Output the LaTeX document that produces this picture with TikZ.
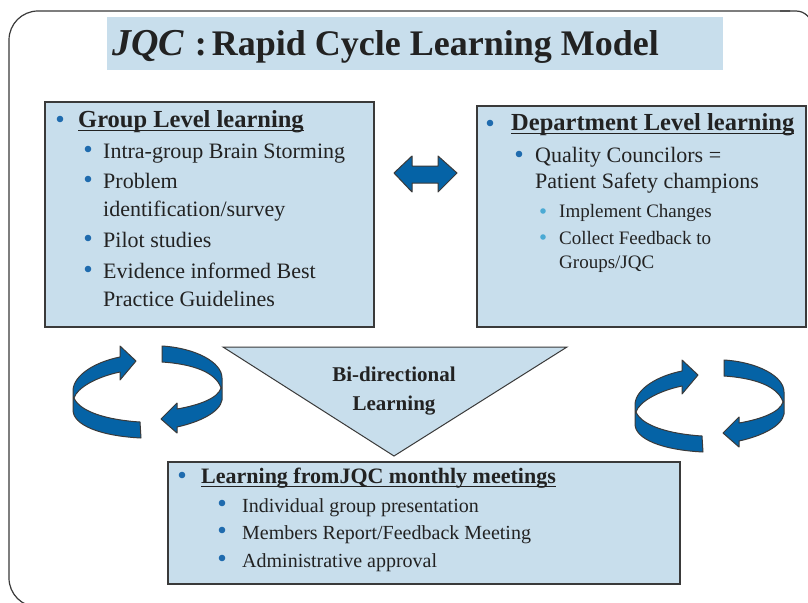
\documentclass[tikz,border=0pt]{standalone}
\usepackage{fontspec}
\setmainfont{Liberation Serif}
\usetikzlibrary{arrows}

\definecolor{boxblue}{HTML}{C8DEEC}
\definecolor{arrblue}{HTML}{0563A6}
\definecolor{dotblue}{HTML}{1F6BAE}
\definecolor{litblue}{HTML}{4BAAD4}
\definecolor{inkgray}{HTML}{222222}
\definecolor{edgegray}{HTML}{3A3A3A}

\begin{document}
\begin{tikzpicture}[x=1pt,y=-1pt,
    panel/.style={draw=edgegray, line width=1.3pt, fill=boxblue},
    ribbon/.style={draw=edgegray, line width=1pt, fill=arrblue, line join=round},
    head/.style={anchor=base west, inner sep=0pt, text=inkgray,
      font=\fontsize{24.5}{28}\selectfont\bfseries},
    item/.style={anchor=base west, inner sep=0pt, text=inkgray,
      font=\fontsize{22}{26}\selectfont},
    subitem/.style={anchor=base west, inner sep=0pt, text=inkgray,
      font=\fontsize{19}{22}\selectfont},
    lowitem/.style={anchor=base west, inner sep=0pt, text=inkgray,
      font=\fontsize{20}{24}\selectfont},
    uline/.style={draw=inkgray, line width=1pt}]
        \useasboundingbox (0,0) rectangle (808,602);
        \clip (0,0) rectangle (808,602);
        \fill [white] (0,0) rectangle (808,602);
        %
        \draw [edgegray, line width=1.2pt, rounded corners=29pt]
        (790,11) -- (9,11) -- (9,607) -- (850,607);
        \draw [edgegray, line width=1.2pt, rounded corners=16pt]
        (780,11) -- (812,11) -- (812,60);
        %
        \fill [boxblue] (107,17) rectangle (723,70);
        \node [anchor=base west, inner sep=0pt, text=inkgray] (title) at (112,56)
        {\fontsize{38}{40}\selectfont\bfseries\itshape JQC%
         \fontsize{36}{40}\selectfont\upshape\hspace{11pt}:\hspace{5pt}Rapid Cycle Learning Model};
        %
        \draw [panel] (45,102) rectangle (374,327);
        \draw [panel] (477,106) rectangle (806,327);
        \draw [panel] (168,462) rectangle (680,584);
        %
        \draw [ribbon]
        (394,173) -- (412,156) -- (412,166) -- (438,166) -- (438,156) --
        (457,173) -- (438,192) -- (438,183) -- (412,183) -- (412,192) -- cycle;
        %
        \draw [fill=boxblue, draw=edgegray, line width=1pt] (223,347) -- (567,347) -- (394,456) -- cycle;
        \node [anchor=base, inner sep=0pt, text=inkgray, font=\fontsize{21}{24}\selectfont\bfseries] (bi1) at (394,381) {Bi-directional};
        \node [anchor=base, inner sep=0pt, text=inkgray, font=\fontsize{21}{24}\selectfont\bfseries] (bi2) at (394,410) {Learning};
        %
        \foreach \sx/\sy in {0/0,562/14} {
          \begin{scope}[shift={(\sx,\sy)}]
            \draw [ribbon]
            (141,438) .. controls (100,436) and (73,425) .. (73,410) -- (73,390)
            .. controls (74,375) and (95,362) .. (120,357) -- (120,346) -- (136,361) --
            (120,380) -- (120,372) .. controls (96,377) and (77,388) .. (74,398)
            .. controls (80,412) and (108,420) .. (140,422) -- cycle;
            \draw [ribbon]
            (162,346) .. controls (195,348) and (222,362) .. (222,378) -- (222,400)
            .. controls (220,412) and (200,422) .. (177,427) -- (177,433) -- (161,419) --
            (177,403) -- (177,409) .. controls (200,405) and (218,398) .. (221,388)
            .. controls (216,372) and (192,364) .. (162,362) -- cycle;
          \end{scope}
        }
        %
        % group level
        \fill [dotblue] (60,119) circle (3.3);
        \node [head] (grp) at (78,127) {Group Level learning};
        \draw [uline] ([yshift=-3pt]grp.base west) -- ([yshift=-3pt]grp.base east);
        \fill [dotblue] (88,149) circle (3.3);
        \node [item] (grp1) at (103,158) {Intra-group Brain Storming};
        \fill [dotblue] (88,179) circle (3.3);
        \node [item] (grp2) at (103,188) {Problem};
        \node [item] (grp3) at (103,216) {identification/survey};
        \fill [dotblue] (88,238) circle (3.3);
        \node [item] (grp4) at (103,247) {Pilot studies};
        \fill [dotblue] (88,269) circle (3.3);
        \node [item] (grp5) at (103,278) {Evidence informed Best};
        \node [item] (grp6) at (103,306) {Practice Guidelines};
        %
        % department level
        \fill [dotblue] (490,123) circle (3.3);
        \node [head] (dep) at (511,130) {Department Level learning};
        \draw [uline] ([yshift=-3pt]dep.base west) -- ([yshift=-3pt]dep.base east);
        \fill [dotblue] (519,154) circle (3.3);
        \node [item] (dep1) at (535,162) {Quality Councilors =};
        \node [item] (dep2) at (535,188) {Patient Safety champions};
        \fill [litblue] (543,211) circle (2.8);
        \node [subitem] (dep3) at (559,217) {Implement Changes};
        \fill [litblue] (543,237) circle (2.8);
        \node [subitem] (dep4) at (559,244) {Collect Feedback to};
        \node [subitem] (dep5) at (559,268) {Groups/JQC};
        %
        % monthly meetings
        \fill [dotblue] (182,475) circle (3.3);
        \node [head, font=\fontsize{22}{26}\selectfont\bfseries] (mtg) at (201,483) {Learning fromJQC monthly meetings};
        \draw [uline] ([yshift=-3pt]mtg.base west) -- ([yshift=-3pt]mtg.base east);
        \fill [dotblue] (222,503) circle (3.3);
        \node [lowitem] (mtg1) at (242,512) {Individual group presentation};
        \fill [dotblue] (222,530) circle (3.3);
        \node [lowitem] (mtg2) at (242,539) {Members Report/Feedback Meeting};
        \fill [dotblue] (222,558) circle (3.3);
        \node [lowitem] (mtg3) at (242,567) {Administrative approval};
      \end{tikzpicture}
\end{document}
